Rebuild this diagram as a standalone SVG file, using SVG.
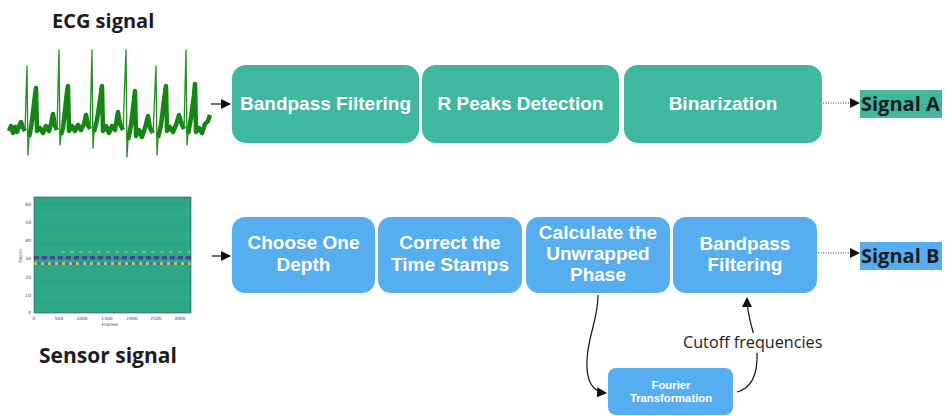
<svg xmlns="http://www.w3.org/2000/svg" width="945" height="416" viewBox="0 0 945 416">
  <style>
    .title { font-family: "Open Sans", "Liberation Sans", sans-serif; font-weight: 700; font-size: 20px; fill: #1c1c1c; }
    .teal { fill: #40b8a0; }
    .blue { fill: #56adf0; }
    .lbl { font-family: "Liberation Sans", Arial, sans-serif; font-weight: 700; font-size: 19px; fill: #ffffff; text-anchor: middle; }
    .lbl-s { font-family: "Liberation Sans", Arial, sans-serif; font-weight: 700; font-size: 11.3px; fill: #ffffff; text-anchor: middle; }
    .sig { font-family: "Open Sans", "Liberation Sans", sans-serif; font-weight: 700; font-size: 20px; fill: #1c1c1c; }
    .note { font-family: "Open Sans", "Liberation Sans", sans-serif; font-size: 16.2px; fill: #222222; }
    .tick { font-family: "DejaVu Sans", sans-serif; font-size: 4.5px; fill: #444444; }
    .edge { fill: none; stroke: #111111; stroke-width: 1.2; }
    .dot { fill: none; stroke: #333333; stroke-width: 1; stroke-dasharray: 1 1.5; }
    .ecg-band { fill: none; stroke: #168516; stroke-width: 4.5; stroke-linejoin: round; }
    .ecg-line { fill: none; stroke: #1f8f1f; stroke-width: 1.3; stroke-linejoin: round; }
  </style>
  <defs>
    <marker id="arrow" viewBox="0 0 10 10" refX="9" refY="5" markerWidth="10" markerHeight="10" markerUnits="userSpaceOnUse" orient="auto">
      <path d="M0,0 L10,5 L0,10 z" fill="#111111"/>
    </marker>
    <pattern id="darkRow" x="34" y="0" width="8" height="4" patternUnits="userSpaceOnUse">
      <rect x="0" y="0" width="5" height="4" fill="#3d4a93"/>
      <rect x="5" y="0" width="3" height="4" fill="#3a8f9a"/>
    </pattern>
    <pattern id="yellowRow" x="34" y="0" width="7" height="4" patternUnits="userSpaceOnUse">
      <rect x="0" y="0" width="3" height="4" fill="#9fd266"/>
      <rect x="3" y="0" width="4" height="4" fill="#3f7d94"/>
    </pattern>
    <pattern id="lightRow" x="34" y="0" width="9" height="2" patternUnits="userSpaceOnUse">
      <rect x="0" y="0" width="4" height="2" fill="#6cc46e"/>
    </pattern>
    <clipPath id="plotClip">
      <rect x="34" y="197" width="157" height="116"/>
    </clipPath>
  </defs>

  <!-- ECG input -->
  <g id="ecg-input">
    <text class="title" x="52" y="28">ECG signal</text>
    <path class="ecg-band" d="M9,131 L11,126 L13,133 L15,127 L17,132 L19,126 L21,122 L23,128 L25,131
      M29,137 L31,128 L33,112 L35,95 L36,88 L37,131 L40,128 L43,133 L46,126 L49,131 L51,124 L53,114 L55,126 L57,130
      M61,135 L63,128 L65,110 L67,92 L68,86 L69,131 L72,126 L75,131 L78,125 L81,130 L84,124 L86,115 L88,125 L90,129
      M94,132 L97,120 L100,100 L102,86 L103,131 L106,126 L109,133 L112,126 L115,130 L118,112 L120,124 L123,130
      M128,140 L131,125 L134,100 L135,91 L136,136 L139,130 L142,137 L145,128 L148,116 L150,128 L153,133
      M158,138 L161,125 L164,100 L166,86 L167,131 L170,127 L173,132 L176,125 L179,115 L181,122 L184,129
      M188,134 L191,118 L194,95 L195,84 L196,132 L199,128 L202,133 L205,124 L208,121 L210,115"/>
    <path class="ecg-line" d="M25,131 L27,66 L28,155 L29,137
      M57,130 L59,50 L60,145 L61,135
      M90,129 L92,50 L93,148 L94,132
      M123,130 L126,50 L127,157 L128,140
      M153,133 L156,66 L157,155 L158,138
      M184,129 L186,50 L187,145 L188,134"/>
  </g>

  <!-- Sensor input (depth vs frames heatmap) -->
  <g id="sensor-input">
    <rect x="34" y="197" width="157" height="116" fill="#2ea784"/>
    <g clip-path="url(#plotClip)">
      <rect x="34" y="203" width="157" height="1.5" fill="#299c88" opacity="0.6"/>
      <rect x="34" y="214" width="157" height="1.5" fill="#3cb07b" opacity="0.6"/>
      <rect x="34" y="226" width="157" height="1.5" fill="#299c88" opacity="0.6"/>
      <rect x="34" y="236" width="157" height="1.5" fill="#3cb07b" opacity="0.6"/>
      <rect x="34" y="243" width="157" height="1.5" fill="#299c88" opacity="0.6"/>
      <rect x="60" y="251" width="131" height="2" fill="url(#lightRow)"/>
      <rect x="34" y="256" width="157" height="3.5" fill="url(#darkRow)"/>
      <rect x="34" y="262" width="157" height="3" fill="url(#yellowRow)"/>
      <rect x="34" y="280" width="157" height="1.5" fill="#299c88" opacity="0.6"/>
      <rect x="34" y="296" width="157" height="1.5" fill="#3cb07b" opacity="0.6"/>
    </g>
    <rect x="34" y="197" width="157" height="116" fill="none" stroke="#333333" stroke-width="0.5"/>
    <g class="tick" text-anchor="end">
      <text x="31" y="206">60</text>
      <text x="31" y="224">50</text>
      <text x="31" y="242">40</text>
      <text x="31" y="260">30</text>
      <text x="31" y="279">20</text>
      <text x="31" y="297">10</text>
      <text x="31" y="314">0</text>
    </g>
    <g class="tick" text-anchor="middle">
      <text x="34" y="320">0</text>
      <text x="59" y="320">500</text>
      <text x="82" y="320">1000</text>
      <text x="107" y="320">1500</text>
      <text x="132" y="320">2000</text>
      <text x="156" y="320">2500</text>
      <text x="180" y="320">3000</text>
      <text x="110" y="326">Frames</text>
      <text x="0" y="0" transform="translate(22,256) rotate(-90)">Depth</text>
    </g>
    <text class="title" x="39" y="363" style="font-size:21px">Sensor signal</text>
  </g>

  <!-- ECG pipeline -->
  <g id="ecg-bandpass">
    <rect class="teal" x="232" y="65" width="187" height="78" rx="14"/>
    <text class="lbl" x="325.5" y="110">Bandpass Filtering</text>
  </g>
  <g id="ecg-rpeaks">
    <rect class="teal" x="422" y="65" width="197" height="78" rx="14"/>
    <text class="lbl" x="520.5" y="110">R Peaks Detection</text>
  </g>
  <g id="ecg-binarization">
    <rect class="teal" x="624" y="65" width="198" height="78" rx="14"/>
    <text class="lbl" x="723" y="110">Binarization</text>
  </g>
  <g id="signal-a">
    <rect class="teal" x="860" y="90" width="82" height="28"/>
    <text class="sig" x="861" y="111">Signal A</text>
  </g>

  <!-- Sensor pipeline -->
  <g id="choose-depth">
    <rect class="blue" x="232" y="217" width="143" height="76" rx="13"/>
    <text class="lbl" x="303.5" y="249">Choose One</text>
    <text class="lbl" x="303.5" y="271">Depth</text>
  </g>
  <g id="correct-timestamps">
    <rect class="blue" x="378" y="217" width="144" height="76" rx="13"/>
    <text class="lbl" x="450" y="249">Correct the</text>
    <text class="lbl" x="450" y="271">Time Stamps</text>
  </g>
  <g id="unwrapped-phase">
    <rect class="blue" x="526" y="217" width="144" height="76" rx="13"/>
    <text class="lbl" x="598" y="239">Calculate the</text>
    <text class="lbl" x="598" y="260">Unwrapped</text>
    <text class="lbl" x="598" y="281">Phase</text>
  </g>
  <g id="sensor-bandpass">
    <rect class="blue" x="673" y="217" width="144" height="76" rx="13"/>
    <text class="lbl" x="745" y="250">Bandpass</text>
    <text class="lbl" x="745" y="271">Filtering</text>
  </g>
  <g id="fourier">
    <rect class="blue" x="608" y="368" width="125" height="47" rx="8"/>
    <text class="lbl-s" x="671" y="389">Fourier</text>
    <text class="lbl-s" x="671" y="402">Transformation</text>
  </g>
  <g id="signal-b">
    <rect class="blue" x="860" y="242" width="82" height="28"/>
    <text class="sig" x="861" y="263">Signal B</text>
  </g>

  <!-- Connectors -->
  <g id="connectors">
    <path class="edge" d="M211,104 L230,104" marker-end="url(#arrow)"/>
    <path class="edge" d="M212,256 L230,256" marker-end="url(#arrow)"/>
    <path class="dot" d="M823,103 L851,103"/>
    <path d="M850,98 L860,103 L850,108 z" fill="#111111"/>
    <path class="dot" d="M818,253 L851,253"/>
    <path d="M850,248 L860,253 L850,258 z" fill="#111111"/>
    <path class="edge" d="M598,295 C598,320 588,335 587,360 C586,380 592,392 606,393" marker-end="url(#arrow)"/>
    <path class="edge" d="M737,392 C752,388 758,375 757,352 C756,335 747,320 747,298" marker-end="url(#arrow)"/>
    <rect x="682" y="333" width="142" height="20" fill="#ffffff"/>
    <text class="note" x="683" y="348">Cutoff frequencies</text>
  </g>
</svg>
